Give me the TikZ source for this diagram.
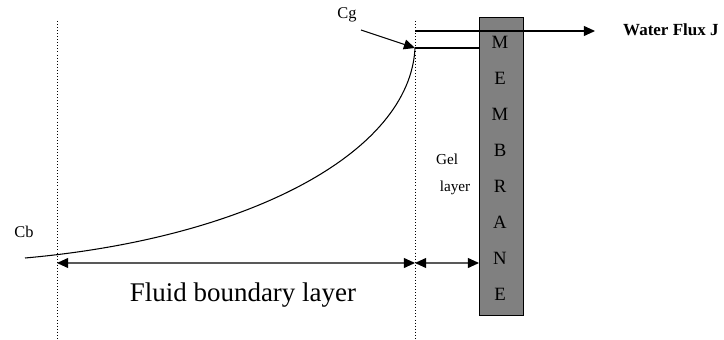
\documentclass[tikz,border=0pt]{standalone}
\usepackage{fontspec}
\setmainfont{Liberation Serif}
\usetikzlibrary{arrows.meta}
\definecolor{membC}{gray}{0.5}
\definecolor{lineC}{gray}{0.35}

\begin{document}
\begin{tikzpicture}[
  x=0.03cm, y=-0.03cm,
  >={Triangle[length=9.5pt,width=8.5pt]},
  every node/.style={inner sep=0pt, text=black},
  limit/.style={dotted, line width=0.6pt},
  dimline/.style={{Triangle[length=9.5pt,width=8.5pt,color=black]}-{Triangle[length=9.5pt,width=8.5pt,color=black]},
                  draw=lineC, line width=1pt},
  letter/.style={font=\fontsize{16}{16}\selectfont},
  txt/.style={font=\fontsize{14}{14}\selectfont},
]
\useasboundingbox (0,0) rectangle (724,340);

% ── Layer limits ──
\coordinate (lt) at (57,21);
\coordinate (lb) at (57,340);
\coordinate (rt) at (415,21);
\coordinate (rb) at (415,340);
\draw[limit] (lt) -- (lb);
\draw[limit] (rt) -- (rb);

% ── Membrane ──
\node[draw, fill=membC, line width=0.8pt, minimum width=44*0.03cm,
      minimum height=298*0.03cm, anchor=north west] (mem) at (479,17) {};
\foreach \ch [count=\i] in {M,E,M,B,R,A,N,E}
  \node[letter] (m\i) at (500,6+36*\i) {\ch};

% ── Concentration profile ──
\coordinate (cb) at (25,258);
\coordinate (cg) at (415,48);
\draw[line width=0.9pt] (cb) .. controls (250,238) and (410,152) .. (cg);
\node[txt] (cbl) at (24,232) {Cb};
\node[txt] (cgl) at (347,15) {Cg};
\coordinate (cgs) at (361,30);
\draw[->, line width=0.9pt] (cgs) -- (cg);

% ── Water flux ──
\coordinate (wf) at (415,31);
\coordinate (wg) at (595,31);
\draw[->, line width=0.9pt] (wf) -- (wg);
\node[font=\fontsize{14.5}{14.5}\selectfont\bfseries, anchor=west] (flux) at (623,30) {Water Flux J};
\draw[line width=0.9pt] (cg) -- (mem.west |- cg);

% ── Layer widths ──
\coordinate (fa) at (57,263);
\coordinate (fb) at (415,263);
\draw[dimline] (fa) -- (fb);
\draw[dimline] (fb) -- (mem.west |- fb);
\node[font=\fontsize{23}{23}\selectfont] (fbl) at (243,295) {Fluid boundary layer};
\node[font=\fontsize{13}{13}\selectfont] (gel) at (447,159) {Gel};
\node[font=\fontsize{13}{13}\selectfont] (gel2) at (455,188) {layer};

\end{tikzpicture}
\end{document}
